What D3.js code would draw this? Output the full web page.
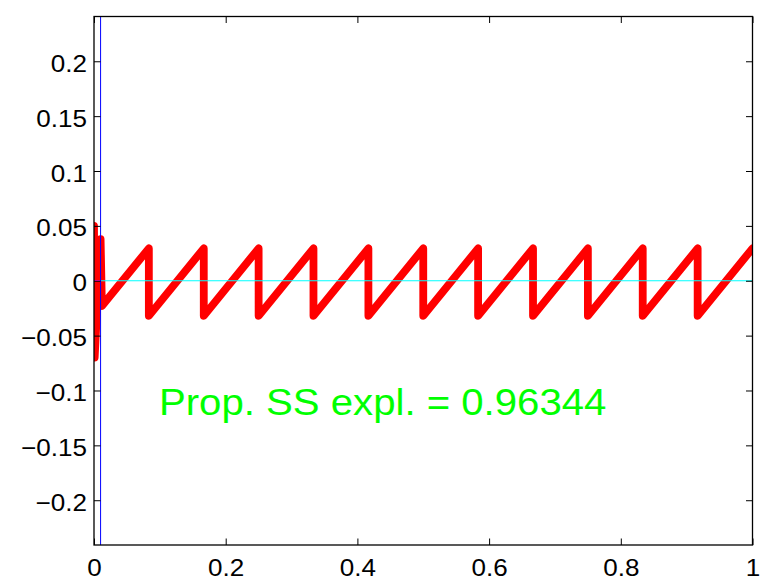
<!DOCTYPE html>
<html>
<head>
<meta charset="utf-8">
<script src="https://cdn.jsdelivr.net/npm/d3@7"></script>
<style>
html,body{margin:0;padding:0;background:#fff;}
svg{display:block;}
text{font-family:"Liberation Sans",Arial,Helvetica,sans-serif;}
</style>
</head>
<body>
<svg id="chart" width="765" height="584"></svg>
<script>
// ---- data ----
const xTicks = [0, 0.2, 0.4, 0.6, 0.8, 1];
const xTickLabels = ["0", "0.2", "0.4", "0.6", "0.8", "1"];
const yTicks = [-0.2, -0.15, -0.1, -0.05, 0, 0.05, 0.1, 0.15, 0.2];
const yTickLabels = ["\u22120.2", "\u22120.15", "\u22120.1", "\u22120.05", "0", "0.05", "0.1", "0.15", "0.2"];
const xDomain = [0, 1];
const yDomain = [-0.2408, 0.2408];

// red fitted signal (x, y)
const signalX = [0, 0.001, 0.010, 0.012, 0.0833, 0.0833, 0.1667, 0.1667, 0.25, 0.25, 0.3333, 0.3333,
  0.4167, 0.4167, 0.5, 0.5, 0.5833, 0.5833, 0.6667, 0.6667, 0.75, 0.75, 0.8333, 0.8333, 0.9167, 0.9167, 1.0];
const signalY = [0.050, -0.070, 0.038, -0.023, 0.0295, -0.032, 0.0295, -0.032, 0.0295, -0.032, 0.0295, -0.032,
  0.0295, -0.032, 0.0295, -0.032, 0.0295, -0.032, 0.0295, -0.032, 0.0295, -0.032, 0.0295, -0.032, 0.0295, -0.032, 0.0295];

const markerX = 0.01;          // blue vertical line
const zeroLineMagenta = [0, 0.01];
const zeroLineCyan = [0.01, 1];
const annotation = "Prop. SS expl. = 0.96344";
const annotationPos = [0.0986, -0.1223];

// ---- layout ----
const svg = d3.select("#chart");
const L = 94, R = 752.5, T = 16.5, B = 545;
const x = d3.scaleLinear().domain(xDomain).range([L, R]);
const y = d3.scaleLinear().domain(yDomain).range([B, T]);
const stretch = 1.085;

svg.append("defs").append("clipPath").attr("id", "clip")
  .append("rect").attr("x", L).attr("y", T).attr("width", R - L).attr("height", B - T);

const plot = svg.append("g").attr("clip-path", "url(#clip)");

const pts = signalX.map((d, i) => [d, signalY[i]]);
plot.append("path")
  .attr("d", d3.line().x(d => x(d[0])).y(d => y(d[1]))(pts))
  .attr("fill", "none").attr("stroke", "#ff0000").attr("stroke-width", 7.8)
  .attr("stroke-linejoin", "round").attr("stroke-linecap", "round");

plot.append("line")
  .attr("x1", x(zeroLineCyan[0])).attr("x2", x(zeroLineCyan[1]))
  .attr("y1", y(0)).attr("y2", y(0))
  .attr("stroke", "#00ffff").attr("stroke-width", 1);
plot.append("line")
  .attr("x1", x(zeroLineMagenta[0])).attr("x2", x(zeroLineMagenta[1]))
  .attr("y1", y(0)).attr("y2", y(0))
  .attr("stroke", "#ff00ff").attr("stroke-width", 1);
plot.append("line")
  .attr("x1", x(markerX)).attr("x2", x(markerX))
  .attr("y1", T).attr("y2", B)
  .attr("stroke", "#0000ff").attr("stroke-width", 1);

// annotation
const ann = svg.append("text")
  .attr("x", x(annotationPos[0])).attr("y", y(annotationPos[1]))
  .attr("fill", "#00ff00").attr("font-size", 37)
  .text(annotation);
ann.attr("textLength", ann.node().getComputedTextLength() * stretch)
  .attr("lengthAdjust", "spacingAndGlyphs");

// axes
const tickLen = 6.5;
const gx = svg.append("g").attr("transform", `translate(0,${B})`)
  .call(d3.axisBottom(x).tickValues(xTicks).tickFormat((d, i) => xTickLabels[i]).tickSize(-tickLen).tickPadding(14));
const gxTop = svg.append("g").attr("transform", `translate(0,${T})`)
  .call(d3.axisTop(x).tickValues(xTicks).tickFormat("").tickSize(-tickLen));
const gy = svg.append("g").attr("transform", `translate(${L},0)`)
  .call(d3.axisLeft(y).tickValues(yTicks).tickFormat((d, i) => yTickLabels[i]).tickSize(-tickLen).tickPadding(7));
const gyR = svg.append("g").attr("transform", `translate(${R},0)`)
  .call(d3.axisRight(y).tickValues(yTicks).tickFormat("").tickSize(-tickLen));

[gx, gxTop, gy, gyR].forEach(g => {
  g.select(".domain").remove();
  g.selectAll("line").attr("stroke", "#000").attr("stroke-width", 1);
  g.selectAll("text").attr("fill", "#000").attr("font-size", 24)
    .attr("font-family", "'Liberation Sans',Arial,Helvetica,sans-serif");
});
gy.selectAll("text").attr("dy", "0.42em");
[gx, gy].forEach(g => {
  g.selectAll("text").each(function () {
    const w = this.getComputedTextLength();
    d3.select(this).attr("textLength", w * stretch).attr("lengthAdjust", "spacingAndGlyphs");
  });
});

svg.append("rect").attr("x", L).attr("y", T).attr("width", R - L).attr("height", B - T)
  .attr("fill", "none").attr("stroke", "#000").attr("stroke-width", 1.3);
</script>
</body>
</html>
